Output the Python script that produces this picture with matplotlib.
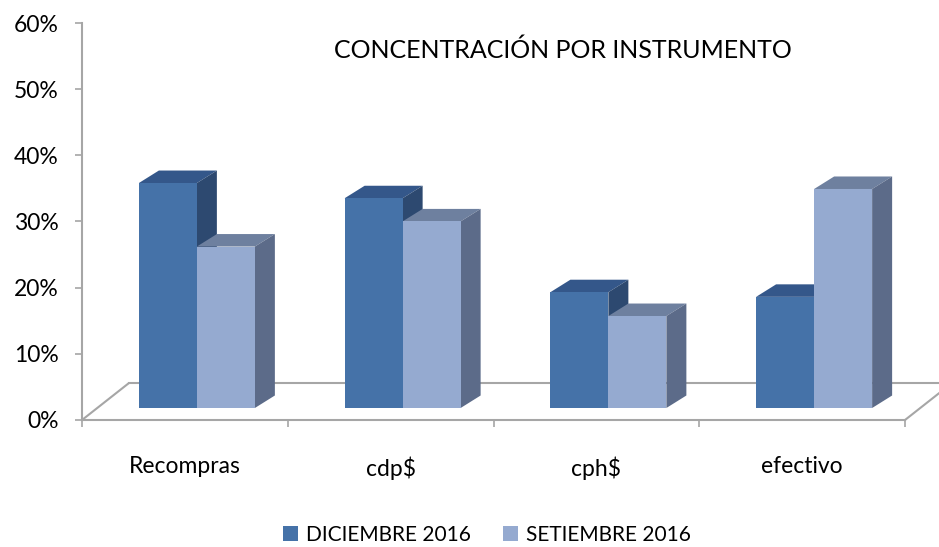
import matplotlib
matplotlib.use("Agg")
import matplotlib.pyplot as plt
from matplotlib.patches import Polygon, Patch
from matplotlib.ticker import PercentFormatter, FixedLocator

categories = ["Recompras", "cdp$", "cph$", "efectivo"]
dic_2016 = [0.340, 0.317, 0.175, 0.168]
set_2016 = [0.244, 0.282, 0.139, 0.331]
series_names = ["DICIEMBRE 2016", "SETIEMBRE 2016"]
title = "CONCENTRACIÓN POR INSTRUMENTO"

plt.rcParams['font.family'] = ['Lato', 'DejaVu Sans']

W, H = 939, 547
fig = plt.figure(figsize=(W / 100, H / 100), dpi=100)
fig.patch.set_facecolor("white")

# axes = front plane of the 3D box
L, R, B, T = 82, 905, 420, 23
ax = fig.add_axes([L / W, (H - B) / H, (R - L) / W, (B - T) / H])
ax.set_xlim(-0.5, 3.5)
ax.set_ylim(0, 0.6)
ax.patch.set_alpha(0)

pxx = (R - L) / 4.0
pxy = (B - T) / 0.6

# styling constants (pixels -> data units)
shift_x = 12 / pxx
base_y = 12 / pxy
bw = 58 / pxx
ddx = 20 / pxx
ddy = 12.5 / pxy
floor_dx = 47 / pxx
floor_dy = 37 / pxy

front_c = ["#4572A8", "#95AAD0"]
top_c = ["#34578A", "#6E809F"]
side_c = ["#2D4970", "#5C6B89"]
edge_gray = "#A6A6A6"

# floor
ax.plot([-0.5, -0.5 + floor_dx], [0, floor_dy], color=edge_gray, lw=1.5,
        clip_on=False, zorder=1, solid_capstyle="butt")
ax.plot([-0.5 + floor_dx, 3.5 + floor_dx], [floor_dy, floor_dy], color=edge_gray,
        lw=1.5, clip_on=False, zorder=1)
ax.plot([3.5, 3.5 + floor_dx], [0, floor_dy], color=edge_gray, lw=1.5,
        clip_on=False, zorder=1)

def draw_bar(x0, h, k, z):
    y0 = base_y
    y1 = base_y + h
    x1 = x0 + bw
    ax.bar(x0, h, width=bw, bottom=y0, align="edge", color=front_c[k],
           edgecolor="none", zorder=z + 0.2, clip_on=False)
    top = Polygon([(x0, y1), (x1, y1), (x1 + ddx, y1 + ddy), (x0 + ddx, y1 + ddy)],
                  closed=True, facecolor=top_c[k], edgecolor="none", zorder=z, clip_on=False)
    side = Polygon([(x1, y0), (x1, y1), (x1 + ddx, y1 + ddy), (x1 + ddx, y0 + ddy)],
                   closed=True, facecolor=side_c[k], edgecolor="none", zorder=z, clip_on=False)
    ax.add_patch(top)
    ax.add_patch(side)

for i in range(len(categories)):
    draw_bar(i + shift_x - bw, dic_2016[i], 0, 3 + i * 2)
    draw_bar(i + shift_x, set_2016[i], 1, 4 + i * 2)

# spines / ticks
for s in ["top", "right"]:
    ax.spines[s].set_visible(False)
ax.spines["left"].set_color(edge_gray)
ax.spines["left"].set_linewidth(1.5)
ax.spines["bottom"].set_color(edge_gray)
ax.spines["bottom"].set_linewidth(1.5)

ax.yaxis.set_major_locator(FixedLocator([0, 0.1, 0.2, 0.3, 0.4, 0.5, 0.6]))
ax.yaxis.set_major_formatter(PercentFormatter(1.0, decimals=0))
ax.tick_params(axis="y", direction="out", length=5, width=1.2, color=edge_gray,
               labelsize=16.5, pad=12, labelcolor="black")

ax.set_xticks(range(len(categories)))
ax.set_xticklabels(categories)
ax.set_xticks([-0.5, 0.5, 1.5, 2.5, 3.5], minor=True)
ax.tick_params(axis="x", which="major", length=0, labelsize=16.5, pad=26, labelcolor="black")
ax.tick_params(axis="x", which="minor", direction="out", length=5, width=1.2, color=edge_gray)

fig.text(563 / W, 1 - 50 / H, title, ha="center", va="center", fontsize=18, color="black")

handles = [Patch(facecolor=front_c[0], edgecolor="none"),
           Patch(facecolor=front_c[1], edgecolor="none")]
fig.legend(handles, series_names, loc="center", bbox_to_anchor=(487 / W, 1 - 535 / H),
           ncol=2, frameon=False, fontsize=15, handlelength=0.7, handleheight=0.7,
           handletextpad=0.4, columnspacing=1.55)

fig.savefig("out.png", dpi=100)
